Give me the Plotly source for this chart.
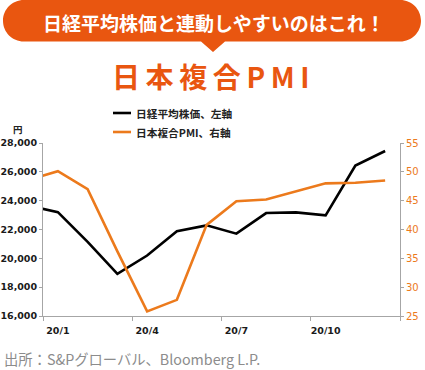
import plotly.graph_objects as go

# ---- data ----
months = ["19/12", "20/1", "20/2", "20/3", "20/4", "20/5", "20/6",
          "20/7", "20/8", "20/9", "20/10", "20/11", "20/12"]
nikkei = [23657, 23205, 21143, 18917, 20194, 21878, 22288,
          21710, 23140, 23185, 22977, 26434, 27444]
pmi = [48.6, 50.1, 47.0, 36.2, 25.8, 27.8, 40.8,
       44.9, 45.2, 46.6, 48.0, 48.1, 48.5]
tick_labels = ["20/1", "20/4", "20/7", "20/10"]
left_ticks = [16000, 18000, 20000, 22000, 24000, 26000, 28000]
right_ticks = [25, 30, 35, 40, 45, 50, 55]

# month index: 20/1 -> 0
xs = [i - 1 for i in range(len(months))]
label_pos = [xs[months.index(t)] for t in tick_labels]
bounds = [p - 0.5 for p in label_pos] + [label_pos[-1] + 2.5]

W, H = 425, 370
L, R, T, B = 43, 25, 143, 54
PW, PH = W - L - R, H - T - B
ORANGE_HDR = "#E95610"
ORANGE_LINE = "#EC7A1C"
GRAY = "#A6A6A6"


def px(x):
    return (x - L) / PW


def py(y):
    return (H - B - y) / PH


fig = go.Figure()
fig.add_trace(go.Scatter(x=xs, y=nikkei, mode="lines", name="日経平均株価、左軸",
                         line=dict(color="#000000", width=2.6), yaxis="y"))
fig.add_trace(go.Scatter(x=xs, y=pmi, mode="lines", name="日本複合PMI、右軸",
                         line=dict(color=ORANGE_LINE, width=2.6), yaxis="y2"))

tickfont = dict(family="DejaVu Sans", size=9.5, color="#1a1a1a", weight="bold")

fig.update_layout(
    template="none",
    width=W, height=H, autosize=False,
    margin=dict(l=L, r=R, t=T, b=B, pad=0),
    paper_bgcolor="white", plot_bgcolor="white",
    showlegend=False,
    xaxis=dict(range=[bounds[0], bounds[-1]], tickvals=label_pos, ticktext=tick_labels,
               ticks="", showgrid=False, zeroline=False, showline=True, automargin=False,
               linecolor=GRAY, linewidth=1, tickfont=tickfont, ticklabelstandoff=6,
               minor=dict(tickmode="array", tickvals=bounds, ticks="outside",
                          ticklen=4, tickcolor=GRAY, showgrid=False)),
    yaxis=dict(range=[16000, 28000], tickvals=left_ticks,
               ticktext=[f"{v:,}" for v in left_ticks], automargin=False,
               ticks="outside", ticklen=3, tickcolor=GRAY, showgrid=False,
               zeroline=False, showline=True, linecolor=GRAY, linewidth=1,
               tickfont=tickfont),
    yaxis2=dict(range=[25, 55], tickvals=right_ticks, overlaying="y", side="right",
                ticks="outside", ticklen=3, tickcolor=GRAY, showgrid=False, automargin=False,
                zeroline=False, showline=True, linecolor=GRAY, linewidth=1,
                tickfont=dict(family="DejaVu Sans", size=10, color=ORANGE_LINE)),
)

# header speech bubble (pill + pointer)
x0, x1, y0, y1, r = 3, 421, 0, 41.5, 20.75
k = 0.5523 * r
path = (
    f"M {px(x0 + r)},{py(y0)} L {px(x1 - r)},{py(y0)} "
    f"C {px(x1 - r + k)},{py(y0)} {px(x1)},{py(y0 + r - k)} {px(x1)},{py(y0 + r)} "
    f"C {px(x1)},{py(y0 + r + k)} {px(x1 - r + k)},{py(y1)} {px(x1 - r)},{py(y1)} "
    f"L {px(225)},{py(y1)} L {px(213)},{py(52)} L {px(201)},{py(y1)} "
    f"L {px(x0 + r)},{py(y1)} "
    f"C {px(x0 + r - k)},{py(y1)} {px(x0)},{py(y0 + r + k)} {px(x0)},{py(y0 + r)} "
    f"C {px(x0)},{py(y0 + r - k)} {px(x0 + r - k)},{py(y0)} {px(x0 + r)},{py(y0)} Z"
)
fig.add_shape(type="path", path=path, xref="paper", yref="paper",
              fillcolor=ORANGE_HDR, line=dict(width=0), layer="above")

cjk = "Noto Sans CJK JP"
ts = "\u2009"
title = ts.join("日本複合PMI")
ann = [
    dict(x=px(214), y=py(22), text="<b>日経平均株価と連動しやすいのはこれ！</b>",
         font=dict(family=cjk, size=19, color="white"), xanchor="center", yanchor="middle"),
    dict(x=px(210), y=py(76), text="<b>" + title + "</b>",
         font=dict(family=cjk, size=28, color=ORANGE_HDR), xanchor="center", yanchor="middle"),
    dict(x=px(18), y=py(129), text="<b>円</b>",
         font=dict(family=cjk, size=9.5, color="#222222"), xanchor="center", yanchor="middle"),
    dict(x=px(134), y=py(113), text="<b>" + fig.data[0].name + "</b>",
         font=dict(family=cjk, size=10.7, color="#222222"), xanchor="left", yanchor="middle"),
    dict(x=px(134), y=py(132), text="<b>" + fig.data[1].name + "</b>",
         font=dict(family=cjk, size=10.7, color="#222222"), xanchor="left", yanchor="middle"),
    dict(x=px(2), y=py(358), text="出所：S&Pグローバル、Bloomberg L.P.",
         font=dict(family=cjk, size=14.3, color="#8C8C8C"), xanchor="left", yanchor="middle"),
]
for a in ann:
    fig.add_annotation(xref="paper", yref="paper", showarrow=False, **a)

fig.add_shape(type="line", xref="paper", yref="paper", x0=px(113), x1=px(131),
              y0=py(113), y1=py(113), line=dict(color="#000000", width=2.6))
fig.add_shape(type="line", xref="paper", yref="paper", x0=px(113), x1=px(131),
              y0=py(132), y1=py(132), line=dict(color=ORANGE_LINE, width=2.6))

fig.write_html("out.html", config={"displayModeBar": False},
               post_script="document.body.style.margin='0';")
